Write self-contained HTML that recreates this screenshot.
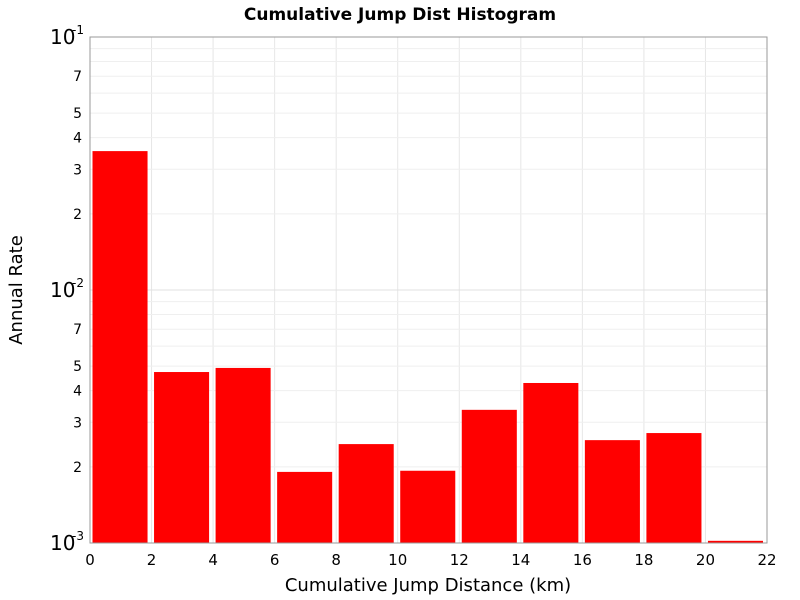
<!DOCTYPE html>
<html><head><meta charset="utf-8"><style>body{margin:0;background:#fff}svg{display:block;font-family:"Liberation Sans","DejaVu Sans",sans-serif}</style></head>
<body>
<svg id="chart" width="800" height="600">
<rect x="0" y="0" width="800" height="600" fill="#fff"/>
<text x="400" y="20" text-anchor="middle" font-size="17" font-weight="bold" font-family="DejaVu Sans, sans-serif">Cumulative Jump Dist Histogram</text>
<g id="grid"></g>
<g id="bars"></g>
<rect x="90" y="37" width="677" height="506" fill="none" stroke="#999"/>
<g id="axes" font-family="DejaVu Sans, sans-serif"></g>
<text x="428" y="591" text-anchor="middle" font-size="18" font-family="DejaVu Sans, sans-serif">Cumulative Jump Distance (km)</text>
<text transform="translate(22,290) rotate(-90)" text-anchor="middle" font-size="18" font-family="DejaVu Sans, sans-serif">Annual Rate</text>
</svg>
<script>
const binStarts=[0,2,4,6,8,10,12,14,16,18,20];
const binWidth=2;
const rates=[0.0354,0.00474,0.00492,0.00191,0.00246,0.00193,0.00336,0.00429,0.00255,0.00272,0.00102];
const xTicks=[0,2,4,6,8,10,12,14,16,18,20,22];
const yMinorLabels=[2,3,4,5,7];
const yDecades=[-3,-2,-1];
const NS='http://www.w3.org/2000/svg';
const L=90,R=767,T=37,B=543;
const xs=v=>L+(v-0)/(22-0)*(R-L);
const ys=v=>B-(Math.log10(v)+3)/2*(B-T);
function mk(tag,attrs,parent){const e=document.createElementNS(NS,tag);for(const k in attrs)e.setAttribute(k,attrs[k]);parent.appendChild(e);return e;}
const grid=document.getElementById('grid'),bars=document.getElementById('bars'),axes=document.getElementById('axes');
xTicks.forEach(t=>{const g=mk('line',{x1:xs(t),x2:xs(t),y1:T,y2:B,stroke:'#e6e6e6'},grid);


const tx=mk('text',{x:xs(t),y:B+22,'text-anchor':'middle','font-size':15},axes);tx.textContent=t;

});
for(let d=-3;d<-1;d++){for(let m=1;m<10;m++){const v=m*Math.pow(10,d);const y=ys(v);
const g=mk('line',{x1:L,x2:R,y1:y,y2:y,stroke:m==1?'#e0e0e0':'#efefef'},grid);


if(yMinorLabels.includes(m)){const tx=mk('text',{x:82,y:y+5,'text-anchor':'end','font-size':14},axes);tx.textContent=m;

}}}
yDecades.forEach(d=>{const y=ys(Math.pow(10,d));const tx=mk('text',{x:50,y:y+7,'font-size':20},axes);tx.textContent='10';


const s=mk('text',{x:72,y:y-3,'font-size':12},axes);s.textContent=d;

});
binStarts.forEach((s,i)=>{const x1=xs(s)+2.5,x2=xs(s+binWidth)-4;const y=ys(rates[i]);
const r=mk('rect',{x:x1,y:y,width:x2-x1,height:B-y,fill:'#ff0000'},bars);

});
</script>
</body></html>
